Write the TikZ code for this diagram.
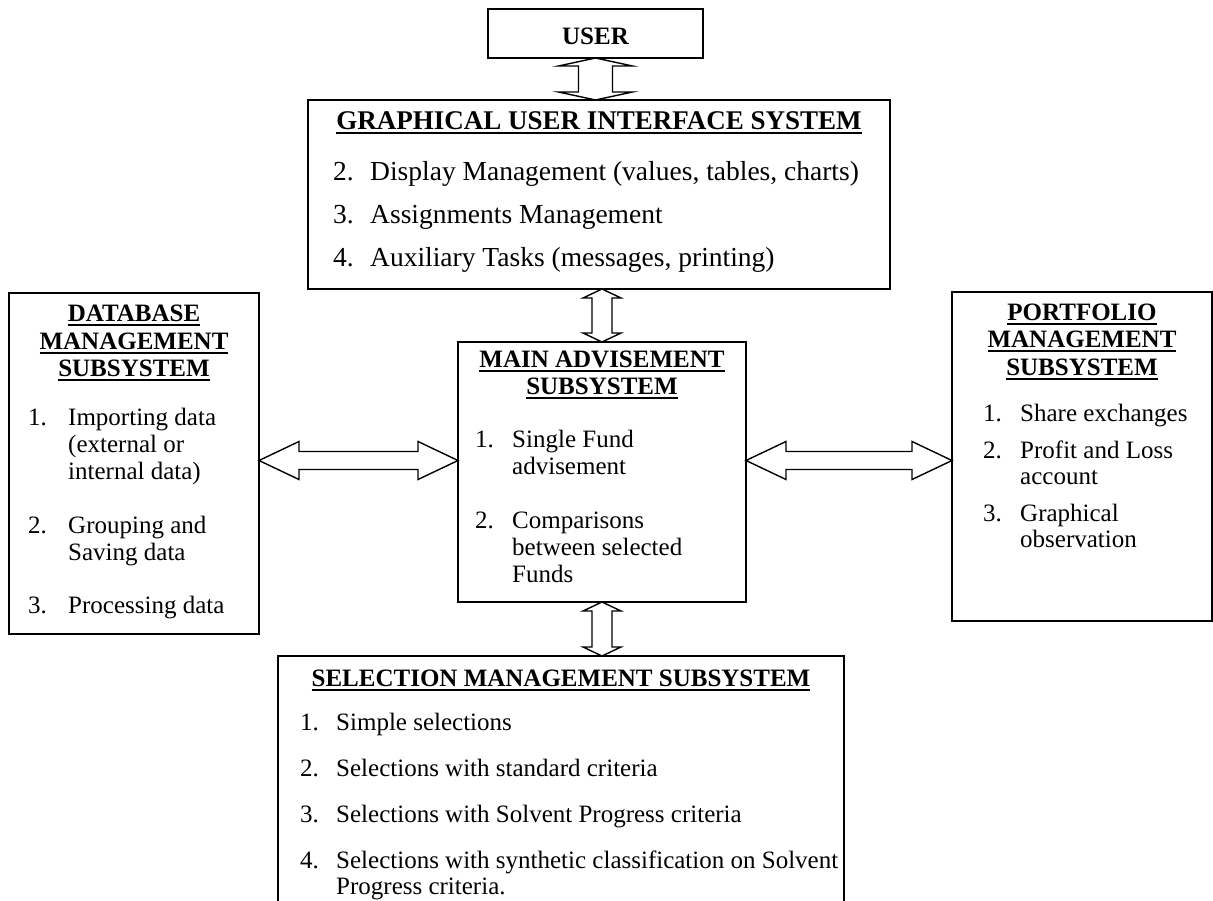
\documentclass[tikz,border=0pt]{standalone}
\usepackage{fontspec}
\setmainfont{Liberation Serif}
\usetikzlibrary{calc}
\newcommand\ulb[1]{\setbox0=\hbox{\bfseries #1}\rlap{\rule[-4.5pt]{\wd0}{2pt}}\box0}
\newcommand\vfat[5]{\draw[fatarrow] let \p1=#1, \p2=#2 in
  (\x1,\y1) -- (\x1+#3,\y1-#5) -- (\x1+#4,\y1-#5) -- (\x1+#4,\y2+#5) -- (\x1+#3,\y2+#5) -- (\x1,\y2)
  -- (\x1-#3,\y2+#5) -- (\x1-#4,\y2+#5) -- (\x1-#4,\y1-#5) -- (\x1-#3,\y1-#5) -- cycle;}
\newcommand\hfat[5]{\draw[fatarrow] let \p1=#1, \p2=#2 in
  (\x1,\y1) -- (\x1+#5,\y1+#3) -- (\x1+#5,\y1+#4) -- (\x2-#5,\y1+#4) -- (\x2-#5,\y1+#3) -- (\x2,\y1)
  -- (\x2-#5,\y1-#3) -- (\x2-#5,\y1-#4) -- (\x1+#5,\y1-#4) -- (\x1+#5,\y1-#3) -- cycle;}
\begin{document}
\begin{tikzpicture}[x=1pt,y=-1pt,
  box/.style={draw, line width=1.8pt, inner sep=0pt, outer sep=0pt},
  fatarrow/.style={draw, line width=1.4pt, fill=white, line join=miter},
  txt/.style={anchor=base west, inner sep=0pt, font=\fontsize{25}{27}\selectfont},
  ttl/.style={anchor=base, inner sep=0pt, font=\fontsize{25}{27}\selectfont\bfseries},
  gtxt/.style={anchor=base west, inner sep=0pt, font=\fontsize{27.5}{29}\selectfont},
  gttl/.style={anchor=base, inner sep=0pt, font=\fontsize{27}{29}\selectfont\bfseries}]
\clip (0,0) rectangle (1213,901);
\fill[white] (0,0) rectangle (1213,901);
% boxes
\node[box, minimum width=215pt, minimum height=49pt] (user) at (595.5,33.5) {};
\node[box, minimum width=582pt, minimum height=189pt] (gui) at (599,194.5) {};
\node[box, minimum width=288pt, minimum height=260pt] (main) at (602,472) {};
\node[box, minimum width=250pt, minimum height=341pt] (db) at (134,463.5) {};
\node[box, minimum width=260pt, minimum height=329pt] (port) at (1082,456.5) {};
\node[box, minimum width=566pt, minimum height=304pt] (sel) at (561,808) {};
% arrows
\vfat{(user.south)}{(user.south |- gui.north)}{37pt}{17pt}{8pt}
\vfat{(main.north |- gui.south)}{(main.north)}{19pt}{10pt}{9pt}
\vfat{(main.south)}{(main.south |- sel.north)}{19pt}{10pt}{9pt}
\hfat{($(db.east)+(0,-3)$)}{($(main.west |- db.east)+(0,-3)$)}{19pt}{9pt}{40pt}
\hfat{($(main.east |- db.east)+(0,-3)$)}{($(port.west |- db.east)+(0,-3)$)}{19pt}{9pt}{40pt}
% USER
\node[ttl] (user-t) at (595.5,45) {USER};
% GUI
\node[gttl] (gui-t) at (599,130) {\ulb{GRAPHICAL USER INTERFACE SYSTEM}};
\node[gtxt] (gui-n2) at (333,181) {2.};
\node[gtxt] (gui-2) at (370,181) {Display Management (values, tables, charts)};
\node[gtxt] (gui-n3) at (333,224) {3.};
\node[gtxt] (gui-3) at (370,224) {Assignments Management};
\node[gtxt] (gui-n4) at (333,267) {4.};
\node[gtxt] (gui-4) at (370,267) {Auxiliary Tasks (messages, printing)};
% MAIN
\node[ttl] (main-t1) at (602,367) {\ulb{MAIN ADVISEMENT}};
\node[ttl] (main-t2) at (602,394) {\ulb{SUBSYSTEM}};
\node[txt] (main-n1) at (475,447) {1.};
\node[txt] (main-1a) at (512,447) {Single Fund};
\node[txt] (main-1b) at (512,474) {advisement};
\node[txt] (main-n2) at (475,528) {2.};
\node[txt] (main-2a) at (512,528) {Comparisons};
\node[txt] (main-2b) at (512,555) {between selected};
\node[txt] (main-2c) at (512,582) {Funds};
% DATABASE
\node[ttl] (db-t1) at (134,322) {\ulb{DATABASE}};
\node[ttl] (db-t2) at (134,349) {\ulb{MANAGEMENT}};
\node[ttl] (db-t3) at (134,376) {\ulb{SUBSYSTEM}};
\node[txt] (db-n1) at (28,425) {1.};
\node[txt] (db-1a) at (68,425) {Importing data};
\node[txt] (db-1b) at (68,452) {(external or};
\node[txt] (db-1c) at (68,479) {internal data)};
\node[txt] (db-n2) at (28,533) {2.};
\node[txt] (db-2a) at (68,533) {Grouping and};
\node[txt] (db-2b) at (68,560) {Saving data};
\node[txt] (db-n3) at (28,613) {3.};
\node[txt] (db-3a) at (68,613) {Processing data};
% PORTFOLIO
\node[ttl] (port-t1) at (1082,321) {\ulb{PORTFOLIO}};
\node[ttl] (port-t2) at (1082,348) {\ulb{MANAGEMENT}};
\node[ttl] (port-t3) at (1082,375) {\ulb{SUBSYSTEM}};
\node[txt] (port-n1) at (983,421) {1.};
\node[txt] (port-1a) at (1020,421) {Share exchanges};
\node[txt] (port-n2) at (983,458) {2.};
\node[txt] (port-2a) at (1020,458) {Profit and Loss};
\node[txt] (port-2b) at (1020,484) {account};
\node[txt] (port-n3) at (983,521) {3.};
\node[txt] (port-3a) at (1020,521) {Graphical};
\node[txt] (port-3b) at (1020,547) {observation};
% SELECTION
\node[ttl] (sel-t) at (561,686) {\ulb{SELECTION MANAGEMENT SUBSYSTEM}};
\node[txt] (sel-n1) at (300,730) {1.};
\node[txt] (sel-1) at (336,730) {Simple selections};
\node[txt] (sel-n2) at (300,776) {2.};
\node[txt] (sel-2) at (336,776) {Selections with standard criteria};
\node[txt] (sel-n3) at (300,822) {3.};
\node[txt] (sel-3) at (336,822) {Selections with Solvent Progress criteria};
\node[txt] (sel-n4) at (300,868) {4.};
\node[txt] (sel-4a) at (336,868) {Selections with synthetic classification on Solvent};
\node[txt] (sel-4b) at (336,894) {Progress criteria.};
\end{tikzpicture}
\end{document}
